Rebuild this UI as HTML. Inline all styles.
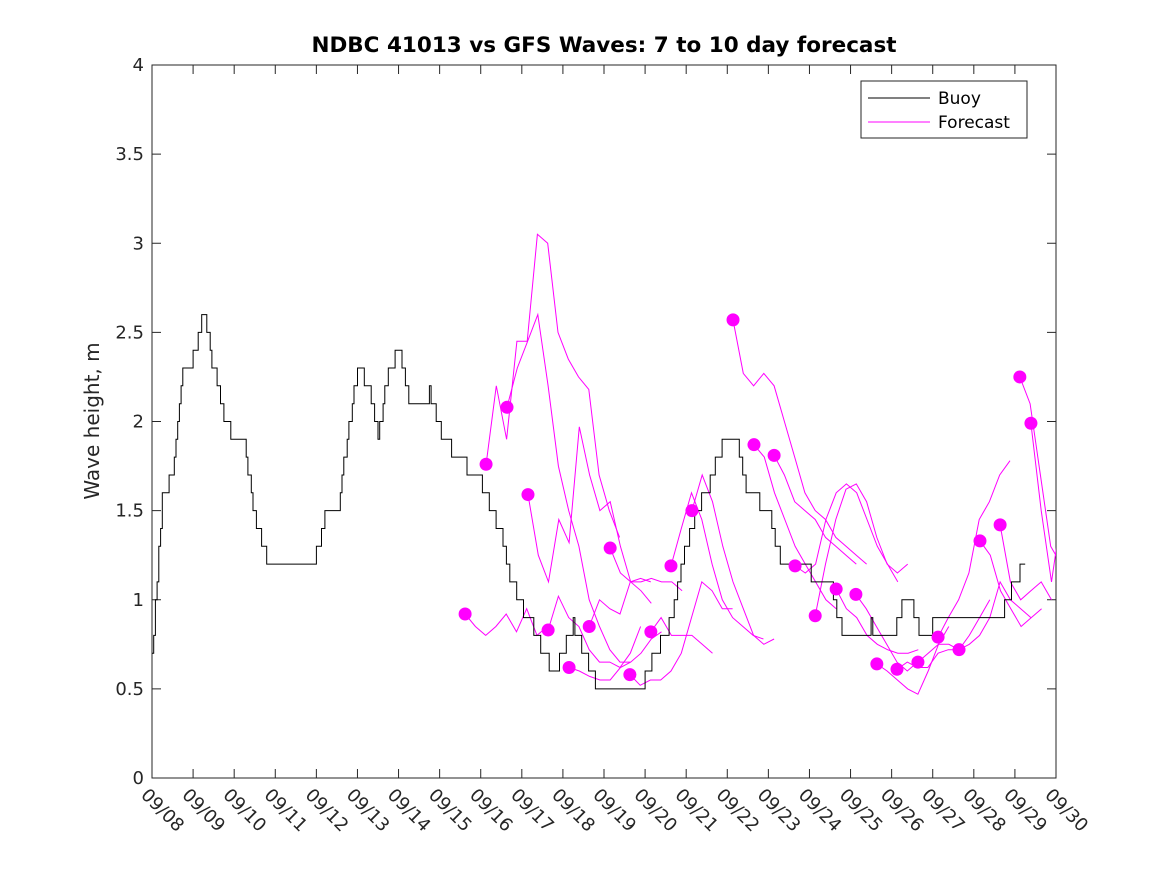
<!DOCTYPE html>
<html><head><meta charset="utf-8"><style>
html,body{margin:0;padding:0;background:#fff;}
svg{display:block;font-family:"DejaVu Sans","Liberation Sans",sans-serif;}
</style></head><body>
<svg id="chart" width="1167" height="875" viewBox="0 0 1167 875" xmlns="http://www.w3.org/2000/svg">
<rect width="1167" height="875" fill="#fff"/>
<defs><clipPath id="clip"><rect x="152" y="65" width="904" height="713"/></clipPath></defs>
<text x="604" y="52" text-anchor="middle" font-size="21.5" font-weight="bold" fill="#000">NDBC 41013 vs GFS Waves: 7 to 10 day forecast</text>
<text transform="translate(99,421) rotate(-90)" text-anchor="middle" font-size="20" fill="#262626">Wave height, m</text>
<g id="axes"></g>
<g id="series" clip-path="url(#clip)"></g>
<g id="legend">
<rect x="861" y="81" width="166" height="57" fill="#fff" stroke="#262626" stroke-width="1"/>
<line x1="868" y1="98" x2="930" y2="98" stroke="#000" stroke-width="1"/>
<text x="938" y="104" font-size="17" fill="#000">Buoy</text>
<line x1="868" y1="122" x2="930" y2="122" stroke="#f0f" stroke-width="1"/>
<text x="938" y="128" font-size="17" fill="#000">Forecast</text>
</g>
</svg>
<script>
const xTickLabels=["09/08","09/09","09/10","09/11","09/12","09/13","09/14","09/15","09/16","09/17","09/18","09/19","09/20","09/21","09/22","09/23","09/24","09/25","09/26","09/27","09/28","09/29","09/30"];
const yTickValues=[0,0.5,1,1.5,2,2.5,3,3.5,4];
const yTickLabels=["0","0.5","1","1.5","2","2.5","3","3.5","4"];
const buoyStep=0.25;
const buoyValues=[0.7,1.55,1.7,2.3,2.35,2.6,2.3,2.0,1.9,1.85,1.45,1.25,1.15,1.2,1.2,1.2,1.25,1.5,1.45,1.9,2.3,2.2,1.9,2.3,2.4,2.1,2.1,2.15,1.95,1.85,1.8,1.7,1.65,1.5,1.35,1.1,0.95,0.85,0.72,0.6,0.7,0.85,0.72,0.55,0.5,0.48,0.45,0.47,0.55,0.7,0.8,1.0,1.3,1.5,1.6,1.8,1.9,1.85,1.6,1.55,1.5,1.25,1.15,1.15,1.15,1.05,1.1,0.85,0.8,0.78,0.85,0.75,0.78,0.95,0.95,0.78,0.85,0.88,0.85,0.85,0.88,0.87,0.88,0.95,1.1,1.2];
const forecastStep=0.25;
const forecastStarts=[7.62,8.13,8.64,9.15,9.64,10.15,10.64,11.15,11.63,12.14,12.63,13.14,14.14,14.65,15.14,15.65,16.14,16.65,17.13,17.64,18.13,18.64,19.13,19.64,20.15,20.64,21.12,21.39];
const forecastValues=[
[0.92,0.85,0.8,0.85,0.92,0.82,0.95,0.8,0.85],
[1.76,2.2,1.9,2.45,2.45,3.05,3.0,2.5,2.35,2.25,2.18,1.7,1.5,1.35],
[2.08,2.3,2.45,2.6,2.2,1.75,1.5,1.3,1.0,0.85,0.72,0.65,0.65],
[1.59,1.25,1.1,1.45,1.32,1.97,1.7,1.5,1.55,1.3,1.1,1.05,0.98],
[0.83,1.02,0.9,0.85,0.72,0.65,0.65,0.62,0.7,0.85],
[0.62,0.6,0.57,0.55,0.55,0.62,0.65,0.7,0.78,0.82],
[0.85,1.0,0.95,0.92,1.1,1.12,1.1],
[1.29,1.15,1.1,1.1,1.12,1.1,1.1,1.05],
[0.58,0.52,0.55,0.55,0.6,0.7,0.9,1.1,1.05,0.95,0.95],
[0.82,0.9,0.8,0.8,0.8,0.75,0.7],
[1.19,1.4,1.6,1.45,1.2,1.0,0.9,0.85,0.8,0.78],
[1.5,1.7,1.55,1.3,1.1,0.95,0.8,0.75,0.78],
[2.57,2.27,2.2,2.27,2.2,2.0,1.8,1.6,1.5,1.45,1.35,1.3,1.25,1.2],
[1.87,1.8,1.6,1.45,1.3,1.2,1.1,1.0,0.95],
[1.81,1.7,1.55,1.5,1.45,1.35,1.3,1.25,1.2],
[1.19,1.15,1.2,1.45,1.6,1.65,1.6,1.45,1.3,1.2,1.1],
[0.91,1.2,1.45,1.62,1.65,1.55,1.35,1.2,1.15,1.2],
[1.06,0.95,0.9,0.8,0.75,0.72,0.7,0.7,0.72],
[1.03,0.95,0.85,0.75,0.65,0.6,0.65],
[0.64,0.6,0.55,0.5,0.47,0.6,0.75,0.85],
[0.61,0.65,0.62,0.62,0.7,0.72,0.72],
[0.65,0.7,0.75,0.75,0.72,0.8,0.9,1.0],
[0.79,0.9,1.0,1.15,1.45,1.55,1.7,1.78],
[0.72,0.75,0.8,0.9,1.1,1.0,0.95,0.9],
[1.33,1.25,1.05,0.95,0.85,0.9,0.95],
[1.42,1.1,1.0,1.05,1.1,1.0],
[2.25,2.1,1.7,1.3,1.2,1.05],
[1.99,1.5,1.1,1.5]
];
const L=152,R=1056,T=65,B=778,NS="http://www.w3.org/2000/svg";
const xMax=xTickLabels.length-1,yMax=yTickValues[yTickValues.length-1];
function xs(d){return L+(R-L)*d/xMax;}
function ys(v){return B-(B-T)*v/yMax;}
function mk(tag,attrs,parent){const e=document.createElementNS(NS,tag);for(const k in attrs)e.setAttribute(k,attrs[k]);parent.appendChild(e);return e;}
const axes=document.getElementById('axes'),series=document.getElementById('series');
const frame=mk('rect',{x:L,y:T,width:R-L,height:B-T,fill:'none',stroke:'#262626','stroke-width':1},axes);


xTickLabels.forEach((lab,i)=>{
  const x=xs(i);
  const t1=mk('line',{x1:x,y1:B,x2:x,y2:B-9,stroke:'#262626'},axes);
  
  
  const t2=mk('line',{x1:x,y1:T,x2:x,y2:T+9,stroke:'#262626'},axes);
  
  
  const tx=mk('text',{transform:`translate(${x-12},${796}) rotate(45)`,'font-size':18,fill:'#262626'},axes);
  tx.textContent=lab;
  
  
});
yTickValues.forEach((v,i)=>{
  const y=ys(v);
  const t1=mk('line',{x1:L,y1:y,x2:L+9,y2:y,stroke:'#262626'},axes);
  
  
  const t2=mk('line',{x1:R,y1:y,x2:R-9,y2:y,stroke:'#262626'},axes);
  
  
  const tx=mk('text',{x:L-8,y:y+6,'text-anchor':'end','font-size':18,fill:'#262626'},axes);
  tx.textContent=yTickLabels[i];
  
  
});
forecastValues.forEach((vals,i)=>{
  const s=forecastStarts[i];
  const pts=vals.map((v,j)=>xs(s+j*forecastStep).toFixed(1)+','+ys(v).toFixed(1)).join(' ');
  const pl=mk('polyline',{points:pts,fill:'none',stroke:'#f0f','stroke-width':1},series);
  
  
});
let bp=[];
for(let j=0;j<buoyValues.length-1;j++){
  const a=buoyValues[j],b=buoyValues[j+1];
  for(let h=0;h<6;h++){
    const v=Math.round((a+(b-a)*h/6)*10)/10;
    const d0=j*buoyStep+h*buoyStep/6,d1=d0+buoyStep/6;
    bp.push(xs(d0).toFixed(1)+','+ys(v).toFixed(1));
    bp.push(xs(d1).toFixed(1)+','+ys(v).toFixed(1));
  }
}
const bl=mk('polyline',{points:bp.join(' '),fill:'none',stroke:'#000','stroke-width':1},series);


forecastValues.forEach((vals,i)=>{
  const c=mk('circle',{cx:xs(forecastStarts[i]),cy:ys(vals[0]),r:6.5,fill:'#f0f'},series);
  
  
});
</script>
</body></html>
